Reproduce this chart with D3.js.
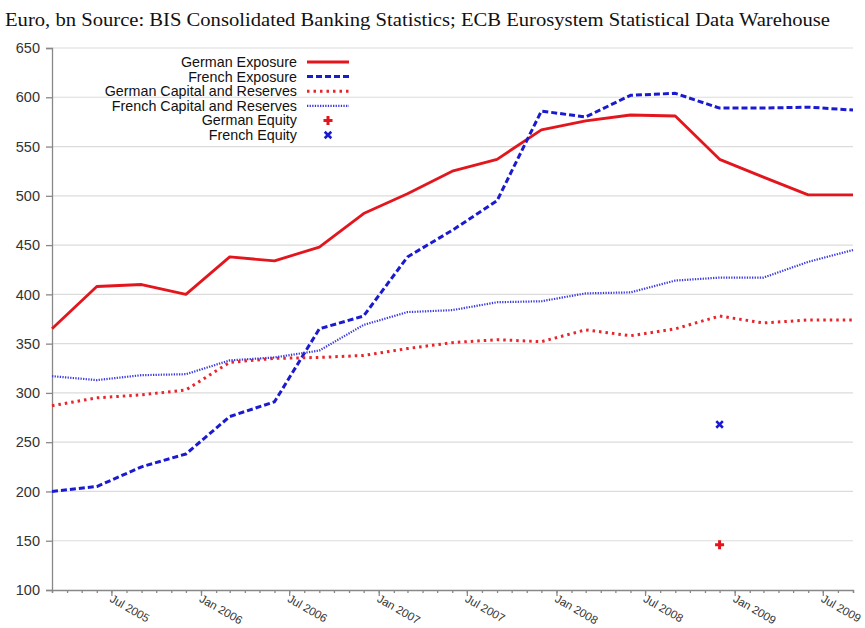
<!DOCTYPE html>
<html>
<head>
<meta charset="utf-8">
<script src="https://cdn.jsdelivr.net/npm/d3@7"></script>
<style>
body { margin: 0; background: #fff; }
svg { display: block; }
</style>
</head>
<body>
<div id="chart"></div>
<script>
// quarterly observations
var quarters = ["2005-03", "2005-06", "2005-09", "2005-12", "2006-03", "2006-06", "2006-09", "2006-12",
    "2007-03", "2007-06", "2007-09", "2007-12", "2008-03", "2008-06", "2008-09", "2008-12",
    "2009-03", "2009-06", "2009-09"];
var germanExposure = [365, 408, 410, 400, 438, 434, 448, 482, 502, 525, 537, 567, 576, 582, 581, 537, 519, 501, 501];
var frenchExposure = [200, 205, 225, 238, 276, 291, 365, 378, 438, 465, 495, 586, 580, 602, 604, 589, 589, 590, 587];
var germanCapital = [287, 295, 298, 303, 331, 335, 336, 338, 345, 351, 354, 352, 364, 358, 365, 378, 371, 374, 374];
var frenchCapital = [317, 313, 318, 319, 333, 336, 343, 369, 382, 384, 392, 393, 401, 402, 414, 417, 417, 433, 445];
var equityDate = "2008-12";
var germanEquity = 146;
var frenchEquity = 268;
var yTicks = [100, 150, 200, 250, 300, 350, 400, 450, 500, 550, 600, 650];

var width = 865, height = 628;
var margin = { left: 52, right: 12, top: 48, bottom: 38 };
var parse = d3.timeParse("%Y-%m");

var svg = d3.select("#chart").append("svg")
    .attr("width", width)
    .attr("height", height);

var x = d3.scaleTime()
    .domain([parse("2005-03"), parse("2009-09")])
    .range([margin.left, width - margin.right]);
var y = d3.scaleLinear()
    .domain([100, 650])
    .range([height - margin.bottom, margin.top]);

svg.append("text")
    .attr("x", 5)
    .attr("y", 26)
    .attr("textLength", 825)
    .attr("lengthAdjust", "spacingAndGlyphs")
    .style("font-family", "'Liberation Serif', serif")
    .style("font-size", "19.5px")
    .attr("fill", "#111")
    .text("Euro, bn Source: BIS Consolidated Banking Statistics; ECB Eurosystem Statistical Data Warehouse");

// grid
svg.append("g").selectAll("line").data(yTicks.slice(1)).enter().append("line")
    .attr("x1", margin.left)
    .attr("x2", width - margin.right)
    .attr("y1", d => y(d))
    .attr("y2", d => y(d))
    .attr("stroke", "#dcdcdc")
    .attr("stroke-width", 1.2);

var yAxis = d3.axisLeft(y).tickValues(yTicks).tickSize(6).tickPadding(6);
var gy = svg.append("g").attr("transform", `translate(${margin.left},0)`).call(yAxis);
gy.selectAll("text").style("font-family", "'Liberation Sans', Arial, sans-serif").style("font-size", "14.5px").attr("fill", "#333");
gy.selectAll("line, path").attr("stroke", "#888").attr("stroke-width", 1.3);

// x axis, minor monthly ticks
var gxm = svg.append("g").attr("transform", `translate(0,${height - margin.bottom})`)
    .call(d3.axisBottom(x).ticks(d3.timeMonth.every(1)).tickSize(3).tickFormat(""));
gxm.selectAll("line, path").attr("stroke", "#888").attr("stroke-width", 1.3);

var labelDates = ["2005-07", "2006-01", "2006-07", "2007-01", "2007-07", "2008-01", "2008-07", "2009-01", "2009-07"].map(parse);
var gx = svg.append("g").attr("transform", `translate(0,${height - margin.bottom})`)
    .call(d3.axisBottom(x).tickValues(labelDates).tickSize(6).tickFormat(d3.timeFormat("%b %Y")));
gx.select("path").remove();
gx.selectAll("line").attr("stroke", "#888").attr("stroke-width", 1.3);
gx.selectAll("text")
    .style("font-family", "'Liberation Sans', Arial, sans-serif")
    .style("font-size", "11.5px")
    .attr("fill", "#333")
    .attr("text-anchor", "start")
    .attr("dy", null)
    .attr("y", 0)
    .attr("transform", "translate(-3,11) rotate(30)");

var series = [
    { name: "German Exposure", values: germanExposure, color: "#e3161d", width: 2.8, dash: null },
    { name: "French Exposure", values: frenchExposure, color: "#1a1ad0", width: 3, dash: "6,3" },
    { name: "German Capital and Reserves", values: germanCapital, color: "#e8252a", width: 3, dash: "2.5,4" },
    { name: "French Capital and Reserves", values: frenchCapital, color: "#3a3ae0", width: 2.2, dash: "1.3,1.3" }
];

var line = d3.line()
    .x((d, i) => x(parse(quarters[i])))
    .y(d => y(d));

svg.append("g").selectAll("path").data(series).enter().append("path")
    .attr("d", d => line(d.values))
    .attr("fill", "none")
    .attr("stroke", d => d.color)
    .attr("stroke-width", d => d.width)
    .attr("stroke-dasharray", d => d.dash)
    .attr("stroke-linejoin", "round");

// equity markers
var plus = d3.symbol().type(d3.symbolCross).size(45);
var cross = d3.symbol().type(d3.symbolTimes).size(30);
function drawMarker(sel, type, color) {
    if (type == "plus") {
        sel.attr("d", plus()).attr("fill", color);
    } else {
        sel.attr("d", cross()).attr("fill", "none").attr("stroke", color).attr("stroke-width", 2.6);
    }
}
svg.append("path")
    .attr("transform", `translate(${x(parse(equityDate))},${y(germanEquity)})`)
    .call(drawMarker, "plus", "#e3161d");
svg.append("path")
    .attr("transform", `translate(${x(parse(equityDate))},${y(frenchEquity)})`)
    .call(drawMarker, "x", "#1a1ad0");

// legend
var legendItems = series.map(d => ({ name: d.name, color: d.color, width: d.width, dash: d.dash, type: "line" }))
    .concat([{ name: "German Equity", color: "#e3161d", type: "plus" }, { name: "French Equity", color: "#1a1ad0", type: "x" }]);
var legend = svg.append("g").attr("transform", "translate(297,62)");
var rows = legend.selectAll("g").data(legendItems).enter().append("g")
    .attr("transform", (d, i) => `translate(0,${i * 14.6})`);
rows.append("text")
    .attr("x", 0)
    .attr("y", 5)
    .attr("text-anchor", "end")
    .style("font-family", "'Liberation Sans', Arial, sans-serif")
    .style("font-size", "14.3px")
    .attr("fill", "#111")
    .text(d => d.name);
rows.filter(d => d.type == "line").append("line")
    .attr("x1", 10).attr("x2", 52)
    .attr("stroke", d => d.color)
    .attr("stroke-width", d => d.width)
    .attr("stroke-dasharray", d => d.dash);
rows.filter(d => d.type != "line").each(function (d) {
    d3.select(this).append("path")
        .attr("transform", "translate(31,0)")
        .call(drawMarker, d.type, d.color);
});
</script>
</body>
</html>
